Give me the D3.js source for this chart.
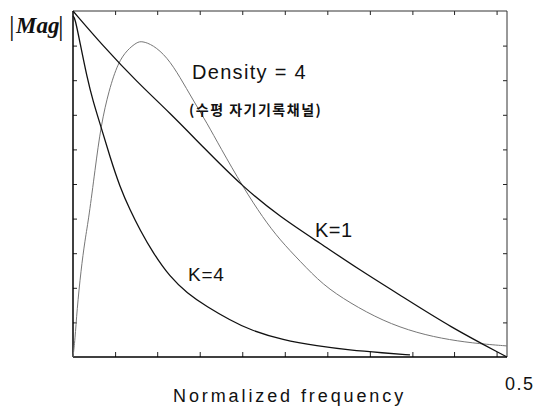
<!DOCTYPE html>
<html>
<head>
<meta charset="utf-8">
<script src="https://cdn.jsdelivr.net/npm/d3@7"></script>
<style>
  body { margin: 0; background: #fff; }
  svg { display: block; }
  .lbl { font-family: "Liberation Sans", Arial, sans-serif; fill: #111; }
</style>
</head>
<body>
<div id="chart"></div>
<script>
// values (x = normalized frequency, y = relative |Mag|)
var k1X = [0, 0.0346, 0.0737, 0.1118, 0.1498, 0.1959, 0.2385, 0.2846, 0.3306, 0.3767, 0.4343, 0.5];
var k1Y = [1.0, 0.899, 0.795, 0.705, 0.607, 0.491, 0.405, 0.329, 0.251, 0.179, 0.087, 0];

var k4X = [0, 0.0023, 0.0081, 0.0161, 0.0230, 0.0323, 0.0426, 0.0541, 0.0657, 0.0772, 0.0922, 0.1118, 0.1313, 0.1544, 0.1809, 0.2039, 0.2419, 0.2811, 0.3191, 0.3571, 0.3882];
var k4Y = [0.986, 0.980, 0.908, 0.809, 0.740, 0.665, 0.578, 0.491, 0.425, 0.367, 0.301, 0.231, 0.185, 0.145, 0.107, 0.078, 0.049, 0.032, 0.020, 0.012, 0.006];

var densX = [0, 0.0023, 0.0046, 0.0092, 0.0138, 0.0184, 0.0253, 0.0323, 0.0415, 0.0518, 0.0622, 0.0737, 0.0795, 0.0922, 0.1083, 0.1233, 0.1382, 0.1544, 0.1694, 0.1959, 0.2189, 0.2385, 0.2615, 0.2880, 0.3191, 0.3571, 0.3963, 0.4343, 0.4689, 0.5];
var densY = [0, 0.049, 0.136, 0.251, 0.338, 0.405, 0.540, 0.671, 0.772, 0.850, 0.887, 0.910, 0.913, 0.902, 0.867, 0.809, 0.743, 0.676, 0.607, 0.491, 0.402, 0.338, 0.277, 0.208, 0.156, 0.104, 0.069, 0.049, 0.038, 0.032];

var xTicks = [0.0485, 0.097, 0.146, 0.195, 0.244, 0.293, 0.342, 0.391, 0.439, 0.488];
var yTicks = [0.1, 0.2, 0.3, 0.4, 0.5, 0.6, 0.7, 0.8, 0.9];

var svgWidth = 536;
var svgHeight = 407;

var margin = { top: 11, right: 29, bottom: 50, left: 73 };
var width = svgWidth - margin.left - margin.right;
var height = svgHeight - margin.top - margin.bottom;

var svg = d3.select("#chart")
    .append("svg")
    .attr("width", svgWidth)
    .attr("height", svgHeight);

var chartGroup = svg.append("g")
    .attr("transform", `translate(${margin.left}, ${margin.top})`);

var xScale = d3.scaleLinear().domain([0, 0.5]).range([0, width]);
var yScale = d3.scaleLinear().domain([0, 1]).range([height, 0]);

// inward ticks on all four sides
function styleAxis(g) {
  g.select(".domain").remove();
  g.selectAll("text").remove();
  g.selectAll("line").attr("stroke", "#222").attr("stroke-width", 1);
}
chartGroup.append("g")
  .call(d3.axisRight(yScale).tickValues(yTicks).tickSize(4).tickSizeOuter(0))
  .call(styleAxis);
chartGroup.append("g")
  .attr("transform", `translate(${width}, 0)`)
  .call(d3.axisLeft(yScale).tickValues(yTicks).tickSize(4).tickSizeOuter(0))
  .call(styleAxis);
chartGroup.append("g")
  .attr("transform", `translate(0, ${height})`)
  .call(d3.axisTop(xScale).tickValues(xTicks).tickSize(5).tickSizeOuter(0))
  .call(styleAxis);
chartGroup.append("g")
  .call(d3.axisBottom(xScale).tickValues(xTicks).tickSize(4).tickSizeOuter(0))
  .call(styleAxis);

// frame
chartGroup.append("line").attr("x1", 0).attr("x2", width).attr("y1", 0).attr("y2", 0)
  .attr("stroke", "#333").attr("stroke-width", 1);
chartGroup.append("line").attr("x1", width).attr("x2", width).attr("y1", 0).attr("y2", height)
  .attr("stroke", "#333").attr("stroke-width", 1);
chartGroup.append("line").attr("x1", 0).attr("x2", 0).attr("y1", 0).attr("y2", height)
  .attr("stroke", "#000").attr("stroke-width", 1.5);
chartGroup.append("line").attr("x1", 0).attr("x2", width).attr("y1", height).attr("y2", height)
  .attr("stroke", "#000").attr("stroke-width", 1.5);

var line = d3.line()
  .x(d => xScale(d[0]))
  .y(d => yScale(d[1]))
  .curve(d3.curveBasis);

chartGroup.append("path")
  .datum(d3.zip(densX, densY))
  .attr("d", line)
  .attr("fill", "none")
  .attr("stroke", "#777")
  .attr("stroke-width", 1);

chartGroup.append("path")
  .datum(d3.zip(k1X, k1Y))
  .attr("d", line)
  .attr("fill", "none")
  .attr("stroke", "#111")
  .attr("stroke-width", 1.3);

chartGroup.append("path")
  .datum(d3.zip(k4X, k4Y))
  .attr("d", line)
  .attr("fill", "none")
  .attr("stroke", "#111")
  .attr("stroke-width", 1.3);

// labels
svg.append("text").attr("class", "lbl")
  .attr("x", 192).attr("y", 79)
  .attr("font-size", "20px").attr("letter-spacing", "1.3px")
  .text("Density = 4");

svg.append("text")
  .attr("x", 189).attr("y", 115)
  .attr("font-family", "'Noto Sans CJK KR', sans-serif")
  .attr("font-weight", "700")
  .attr("font-size", "14px").attr("letter-spacing", "1.5px")
  .attr("fill", "#111")
  .text("(수평 자기기록채널)");

svg.append("text").attr("class", "lbl")
  .attr("x", 315).attr("y", 237)
  .attr("font-size", "20px").attr("letter-spacing", "0.5px")
  .text("K=1");

svg.append("text").attr("class", "lbl")
  .attr("x", 188).attr("y", 281)
  .attr("font-size", "19px").attr("letter-spacing", "0.8px")
  .text("K=4");

svg.append("text").attr("class", "lbl")
  .attr("x", 505).attr("y", 390)
  .attr("font-size", "18px").attr("letter-spacing", "1.5px")
  .text("0.5");

svg.append("text").attr("class", "lbl")
  .attr("x", 173).attr("y", 402)
  .attr("font-size", "18px").attr("letter-spacing", "2.9px")
  .text("Normalized frequency");

// |Mag| axis title
var serif = "'Liberation Serif', 'Times New Roman', serif";
svg.append("text")
  .attr("x", 9).attr("y", 35)
  .attr("font-family", serif).attr("font-size", "28px").attr("fill", "#111")
  .text("|");
svg.append("text")
  .attr("x", 16).attr("y", 33)
  .attr("font-family", serif).attr("font-size", "23px")
  .attr("font-style", "italic").attr("font-weight", "700").attr("fill", "#111")
  .text("Mag");
svg.append("text")
  .attr("x", 58).attr("y", 35)
  .attr("font-family", serif).attr("font-size", "28px").attr("fill", "#111")
  .text("|");
</script>
</body>
</html>
